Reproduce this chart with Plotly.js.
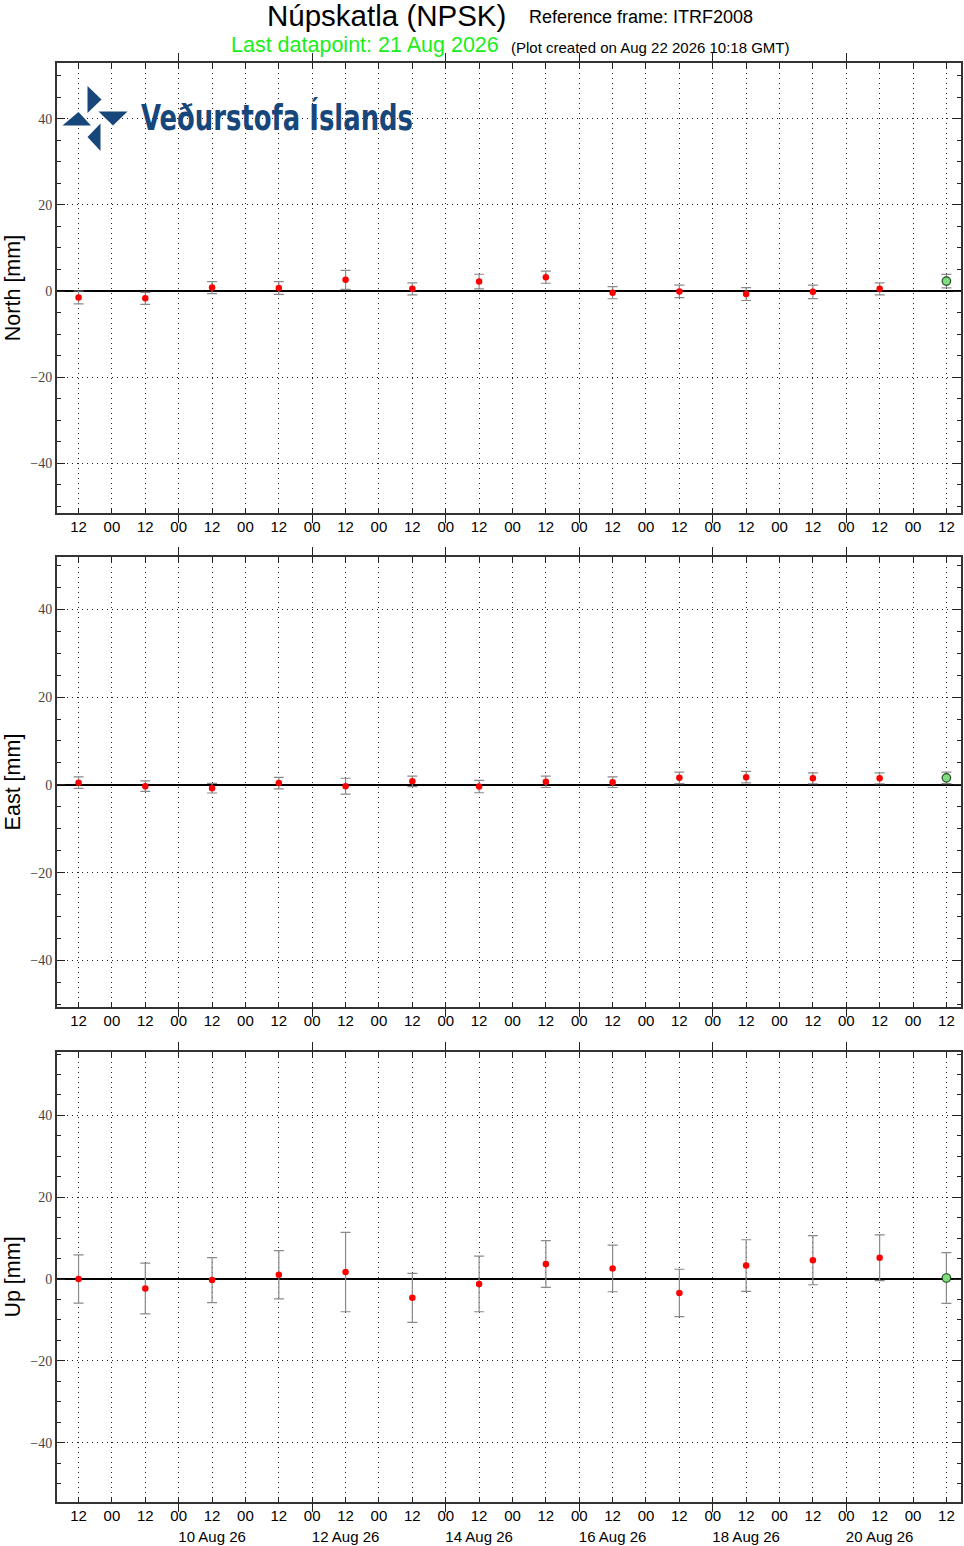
<!DOCTYPE html>
<html>
<head>
<meta charset="utf-8">
<script src="https://cdn.plot.ly/plotly-3.0.1.min.js"></script>
<style>html,body{margin:0;padding:0;background:#fff}#chart{width:964px;height:1546px}</style>
</head>
<body>
<div id="chart"></div>
<script>
// ---- data ----
const dates = ['2026-08-08 12:00','2026-08-09 12:00','2026-08-10 12:00','2026-08-11 12:00','2026-08-12 12:00','2026-08-13 12:00','2026-08-14 12:00','2026-08-15 12:00','2026-08-16 12:00','2026-08-17 12:00','2026-08-18 12:00','2026-08-19 12:00','2026-08-20 12:00','2026-08-21 12:00'];
const north    = [-1.5, -1.7, 0.8, 0.7, 2.6, 0.5, 2.2, 3.2, -0.4, -0.1, -0.7, -0.2, 0.5, 2.3];
const northErr = [1.5, 1.4, 1.4, 1.5, 2.2, 1.4, 1.7, 1.4, 1.4, 1.45, 1.5, 1.55, 1.4, 1.55];
const east     = [0.5, -0.3, -0.75, 0.4, -0.3, 0.8, -0.4, 0.7, 0.6, 1.6, 1.75, 1.5, 1.5, 1.6];
const eastErr  = [1.3, 1.2, 1.1, 1.3, 1.8, 1.2, 1.4, 1.3, 1.2, 1.3, 1.3, 1.25, 1.25, 1.3];
const up       = [0.0, -2.3, -0.25, 1.06, 1.7, -4.6, -1.2, 3.67, 2.6, -3.4, 3.3, 4.6, 5.2, 0.25];
const upErr    = [5.9, 6.2, 5.5, 5.9, 9.7, 6.0, 6.8, 5.7, 5.7, 5.8, 6.3, 6.0, 5.6, 6.2];
const dateLabelDays = ['2026-08-10 12:00','2026-08-12 12:00','2026-08-14 12:00','2026-08-16 12:00','2026-08-18 12:00','2026-08-20 12:00'];
const panelTitles = ['North [mm]', 'East [mm]', 'Up [mm]'];
const yRanges = [[-51.6, 53.0], [-50.6, 51.9], [-54.5, 55.5]];
const xRange = ['2026-08-08 04:15', '2026-08-21 17:15'];
const stationTitle = 'Núpskatla (NPSK)';
const refFrame = 'Reference frame: ITRF2008';
const lastPoint = 'Last datapoint: 21 Aug 2026';
const created = '(Plot created on Aug 22 2026 10:18 GMT)';
const logoText = 'Veðurstofa Íslands';

// ---- layout helpers ----
const W = 964, H = 1546, ML = 57, MR = 3, MT = 63, MB = 44;
const PW = W - ML - MR, PH = H - MT - MB;
const px2x = p => (p - ML) / PW;
const py2y = p => (H - MB - p) / PH;
const domains = [[py2y(513), 1], [py2y(1007), py2y(557)], [0, py2y(1052)]];

const SANS = 'Liberation Sans, Arial, Helvetica, sans-serif';
const SERIF = 'Liberation Serif, Times New Roman, serif';
const H12 = 12 * 3600 * 1000, D2 = 48 * 3600 * 1000;

const series = [[north, northErr], [east, eastErr], [up, upErr]];
const traces = [];
series.forEach(([v, e], i) => {
  const xa = i === 0 ? 'x' : 'x' + (i + 1);
  const ya = i === 0 ? 'y' : 'y' + (i + 1);
  const n = v.length;
  traces.push({
    type: 'scatter', mode: 'markers', xaxis: xa, yaxis: ya,
    x: dates.slice(0, n - 1), y: v.slice(0, n - 1),
    error_y: {type: 'data', array: e.slice(0, n - 1), color: '#8a8a8a', thickness: 1.2, width: 5},
    marker: {color: '#ff0000', size: 6.5},
    showlegend: false, hoverinfo: 'x+y'
  });
  traces.push({
    type: 'scatter', mode: 'markers', xaxis: xa, yaxis: ya,
    x: dates.slice(n - 1), y: v.slice(n - 1),
    error_y: {type: 'data', array: e.slice(n - 1), color: '#8a8a8a', thickness: 1.2, width: 5},
    marker: {color: '#7fdc7f', size: 8.5, line: {color: '#1f4a1f', width: 1.2}},
    showlegend: false, hoverinfo: 'x+y'
  });
  // invisible carrier trace so the overlay axis (long ticks) is drawn
  traces.push({
    type: 'scatter', mode: 'markers', xaxis: 'x' + (i + 4), yaxis: ya,
    x: dates, y: v, marker: {opacity: 0, size: 1}, showlegend: false, hoverinfo: 'skip'
  });
});
// carrier for the date-label axis of the bottom panel
traces.push({
  type: 'scatter', mode: 'markers', xaxis: 'x7', yaxis: 'y3',
  x: dates, y: up, marker: {opacity: 0, size: 1}, showlegend: false, hoverinfo: 'skip'
});

const layout = {
  width: W, height: H,
  margin: {l: ML, r: MR, t: MT, b: MB, pad: 0},
  paper_bgcolor: '#fff', plot_bgcolor: '#fff',
  font: {family: SANS, color: '#000'},
  showlegend: false,
  annotations: [],
  shapes: []
};

const mainX = anchor => ({
  type: 'date', range: xRange, anchor: anchor,
  tickmode: 'linear', tick0: '2026-08-08 12:00', dtick: H12, tickformat: '%H',
  ticks: 'inside', ticklen: 5, tickwidth: 1, tickcolor: '#222',
  showline: true, linecolor: '#333', linewidth: 2, mirror: 'ticks',
  showgrid: true, gridcolor: '#222', gridwidth: 1, griddash: '1px,4px',
  zeroline: false, tickfont: {family: SANS, size: 15, color: '#000'},
  ticklabelstandoff: -1, fixedrange: true
});
const longX = (overlay, anchor) => ({
  type: 'date', range: xRange, overlaying: overlay, anchor: anchor, side: 'bottom',
  tickmode: 'linear', tick0: '2026-08-10 00:00', dtick: D2,
  ticks: 'outside', ticklen: 9, tickwidth: 1, tickcolor: '#222', mirror: 'ticks',
  showticklabels: false, showgrid: false, showline: false, zeroline: false, fixedrange: true
});

layout.xaxis = mainX('y');
layout.xaxis2 = mainX('y2');
layout.xaxis3 = mainX('y3');
layout.xaxis4 = longX('x', 'y');
layout.xaxis5 = longX('x2', 'y2');
layout.xaxis6 = longX('x3', 'y3');
layout.xaxis7 = {
  type: 'date', range: xRange, overlaying: 'x3', anchor: 'y3', side: 'bottom',
  tickmode: 'array', tickvals: dateLabelDays, tickformat: '%-d %b %y',
  ticks: '', showgrid: false, showline: false, zeroline: false,
  ticklabelstandoff: 24, tickfont: {family: SANS, size: 15, color: '#000'}, fixedrange: true
};

panelTitles.forEach((t, i) => {
  const key = i === 0 ? 'yaxis' : 'yaxis' + (i + 1);
  layout[key] = {
    domain: domains[i], range: yRanges[i], anchor: i === 0 ? 'x' : 'x' + (i + 1),
    tickmode: 'linear', tick0: 0, dtick: 20,
    ticks: 'inside', ticklen: 8, tickwidth: 1, tickcolor: '#222',
    minor: {dtick: 5, tick0: 0, ticks: 'inside', ticklen: 4, tickcolor: '#222', showgrid: false},
    showline: true, linecolor: '#333', linewidth: 2, mirror: 'ticks',
    showgrid: true, gridcolor: '#222', gridwidth: 1, griddash: '1px,4px',
    zeroline: true, zerolinecolor: '#000', zerolinewidth: 2,
    tickfont: {family: SERIF, size: 14, color: '#444'},
    title: {text: t, font: {family: SANS, size: 21.5, color: '#000'}, standoff: 4},
    fixedrange: true
  };
});

// titles
const ann = (text, cx, cy, size, color, anchor) => ({
  text: text, xref: 'paper', yref: 'paper', x: px2x(cx), y: py2y(cy),
  xanchor: anchor || 'center', yanchor: 'middle', showarrow: false,
  font: {family: SANS, size: size, color: color}
});
layout.annotations.push(ann(stationTitle, 386, 16, 29.5, '#000'));
layout.annotations.push(ann(refFrame, 641, 17, 18, '#000'));
layout.annotations.push(ann(lastPoint, 365, 45, 21.5, '#1aee1a'));
layout.annotations.push(ann(created, 650, 47, 15, '#000'));

// logo
const LOGO = '#17467a';
layout.annotations.push({
  text: logoText, xref: 'paper', yref: 'paper',
  x: px2x(139), y: py2y(117), xanchor: 'left', yanchor: 'middle', showarrow: false,
  font: {family: 'DejaVu Sans Condensed, DejaVu Sans, sans-serif', size: 36, weight: 700, color: LOGO}
});
const tri = pts => 'M' + pts.map(([a, b]) => px2x(a) + ',' + py2y(b)).join(' L') + ' Z';
[
  [[87.5, 86], [87.5, 113], [101.5, 99.5]],
  [[78.5, 112], [62.5, 125.5], [91, 125.5]],
  [[98.5, 111.5], [127.5, 111.5], [113, 125.5]],
  [[100.5, 123.5], [100.5, 151], [87.5, 137]]
].forEach(p => layout.shapes.push({
  type: 'path', xref: 'paper', yref: 'paper', path: tri(p),
  fillcolor: LOGO, line: {width: 0}, layer: 'above'
}));

Plotly.newPlot('chart', traces, layout, {staticPlot: true, displayModeBar: false}).then(gd => {
  gd.querySelectorAll('text.annotation-text').forEach(t => {
    if (t.textContent === logoText) {
      const bb = t.getBBox();
      t.setAttribute('text-anchor', 'start');
      t.style.textAnchor = 'start';
      t.setAttribute('x', bb.x);
      t.setAttribute('textLength', 272);
      t.setAttribute('lengthAdjust', 'spacingAndGlyphs');
    }
  });
});
</script>
</body>
</html>
